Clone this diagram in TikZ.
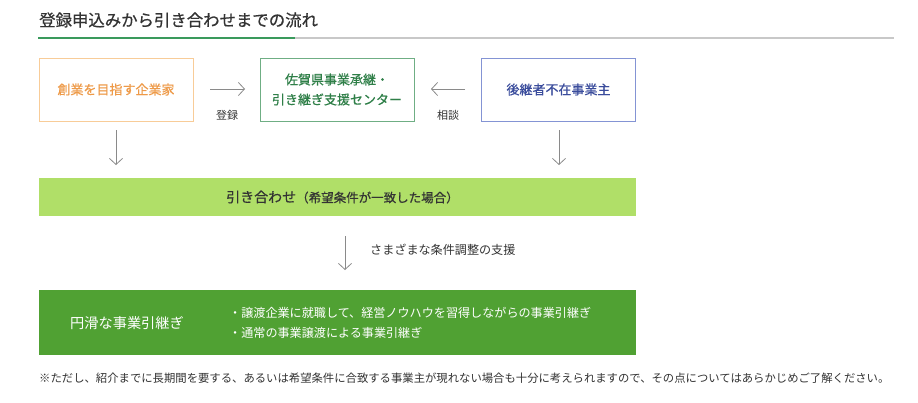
\documentclass[tikz,border=0pt]{standalone}
\usepackage{fontspec}
\setmainfont{Noto Sans CJK JP}
\newfontfamily\medfont{Noto Sans CJK JP}[FakeBold=0.6]
\usetikzlibrary{arrows.meta}
\definecolor{orgB}{HTML}{F8CC98}
\definecolor{orgT}{HTML}{EE9A48}
\definecolor{grnB}{HTML}{6FAE84}
\definecolor{grnT}{HTML}{2F7F48}
\definecolor{bluB}{HTML}{8494D4}
\definecolor{bluT}{HTML}{3A4C9C}
\definecolor{lgrn}{HTML}{B0DF68}
\definecolor{dgrn}{HTML}{50A133}
\definecolor{ttl}{HTML}{3A9A5C}
\definecolor{gryL}{HTML}{C8C8C8}
\definecolor{txt}{HTML}{333333}
\definecolor{arr}{HTML}{8A8A8A}
\tikzset{
  x=1pt,y=-1pt,
  fbox/.style={draw, line width=0.9pt, minimum width=154pt, minimum height=63pt, inner sep=0pt, align=center, font=\medfont\fontsize{13}{20}\selectfont},
  flow/.style={draw=arr, line width=0.8pt, -{Straight Barb[length=6pt,width=13pt,line width=0.8pt]}},
  lbl/.style={text=txt, font=\fontsize{11}{13}\selectfont, inner sep=0pt},
}
\begin{document}
\begin{tikzpicture}
\useasboundingbox[fill=white] (0,0) rectangle (918,402);
% title
\node[anchor=west, text=txt, font=\medfont\fontsize{16.4}{18}\selectfont, inner sep=0pt] (title) at (39,20) {登録申込みから引き合わせまでの流れ};
\draw[gryL, line width=2pt] (295,37.5) -- (894,37.5);
\draw[ttl, line width=2pt] (38,37.5) -- (295,37.5);
% top boxes
\node[fbox, draw=orgB, text=orgT] (b1) at (116,89.5) {創業を目指す企業家};
\node[fbox, draw=grnB, text=grnT] (b2) at (337,89.5) {佐賀県事業承継・\\引き継ぎ支援センター};
\node[fbox, draw=bluB, text=bluT] (b3) at (558.5,89.5) {後継者不在事業主};
% horizontal arrows
\draw[flow] (210,89) -- (245,89);
\node[lbl] (l1) at (227,115) {登録};
\draw[flow] (465,89) -- (431,89);
\node[lbl] (l2) at (448,115) {相談};
% match bar
\node[fill=lgrn, minimum width=597pt, minimum height=38pt, inner sep=0pt] (bar) at (337.5,197) {};
\node[text=txt, inner sep=0pt, anchor=west] (bartxt) at (226,197) {\medfont\fontsize{14}{16}\selectfont 引き合わせ\fontsize{12.5}{16}\selectfont （希望条件が一致した場合）};
\coordinate (d1s) at (116,130);
\coordinate (d1e) at (116,165);
\coordinate (d2s) at (559,130);
\coordinate (d2e) at (559,165);
\draw[flow] (d1s) -- (d1e);
\draw[flow] (d2s) -- (d2e);
% support arrow
\coordinate (d3s) at (345,236);
\coordinate (d3e) at (345,270);
\draw[flow] (d3s) -- (d3e);
\node[lbl, anchor=west, font=\fontsize{12.1}{14}\selectfont] (l3) at (370,250) {さまざまな条件調整の支援};
% result box
\node[fill=dgrn, minimum width=597pt, minimum height=65pt, inner sep=0pt] (res) at (337.5,322.5) {};
\node[text=white, font=\fontsize{14.2}{16}\selectfont, inner sep=0pt] (restitle) at (127,323) {円滑な事業引継ぎ};
\node[text=white, anchor=west, align=left, font=\fontsize{12.1}{20}\selectfont, inner sep=0pt] (bul) at (229,323) {・譲渡企業に就職して、経営ノウハウを習得しながらの事業引継ぎ\\・通常の事業譲渡による事業引継ぎ};
% footnote
\node[text=txt, anchor=west, font=\fontsize{11.35}{13}\selectfont, inner sep=0pt] (note) at (39,378) {※ただし、紹介までに長期間を要する、あるいは希望条件に合致する事業主が現れない場合も十分に考えられますので、その点についてはあらかじめご了解ください。};
\end{tikzpicture}
\end{document}
